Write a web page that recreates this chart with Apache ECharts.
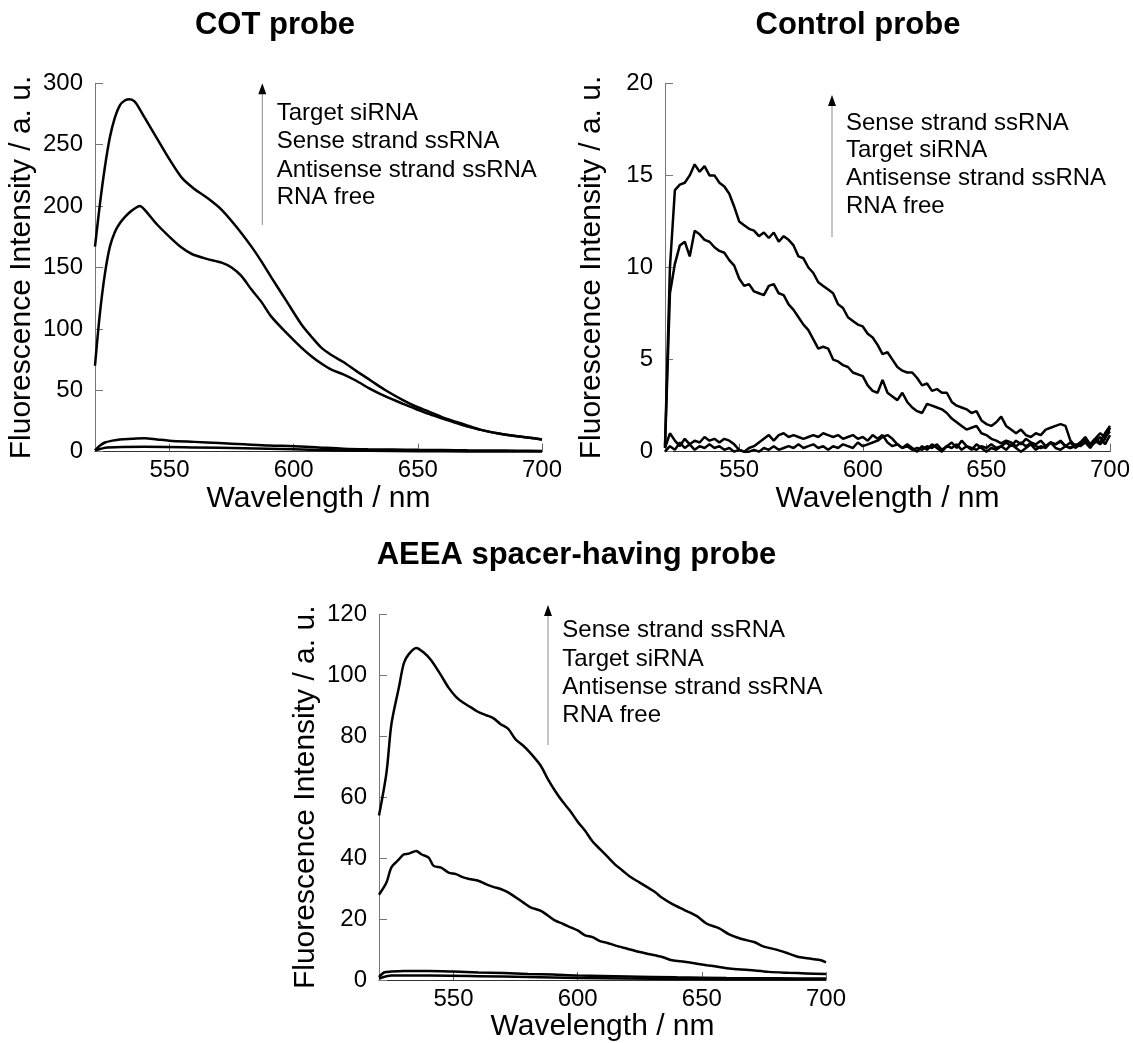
<!DOCTYPE html>
<html><head><meta charset="utf-8">
<script src="https://cdn.jsdelivr.net/npm/echarts@6/dist/echarts.min.js"></script>
<style>html,body{margin:0;padding:0;background:#fff}#c{width:1133px;height:1043px}</style>
</head><body><div id="c"></div><script>
// ---------- data ----------
var titles = ['COT probe', 'Control probe', 'AEEA spacer-having probe'];
var xTicks = [550, 600, 650, 700];
var xName = 'Wavelength / nm';
var yName = 'Fluorescence Intensity / a. u.';
var cotLegend  = ['Target siRNA', 'Sense strand ssRNA', 'Antisense strand ssRNA', 'RNA free'];
var ctrlLegend = ['Sense strand ssRNA', 'Target siRNA', 'Antisense strand ssRNA', 'RNA free'];
var aeeaLegend = ['Sense strand ssRNA', 'Target siRNA', 'Antisense strand ssRNA', 'RNA free'];

// COT probe
var cotTargetWl = [520,522,524,526,528,530,532,534,536,538,540,545,550,555,560,565,571,577,583,587,591,597,603,607,611,615,620,625,631,637,644,649,654,660,669,675,682,690,700];
var cotTarget   = [167,202,232,256,272,282,286,287,285,279,272,255,238,223,214,207,197,183,167,155,142,123,104,94,85,79,73,66,58,50,42,37,33,28,22,18,15,12.5,10];
var cotSenseWl  = [520,522,524,526,528,530,532,534,536,538,540,545,550,555,559,565,571,575,579,583,587,591,597,603,607,611,615,620,625,631,637,644,649,654,660,669,675,682,690,700];
var cotSense    = [70,113,145,167,179,186,191,195,198,200,197,185,175,166,161,157,154,150,143,132,122,110,97,85,78,72,67,63,58,51,45,39,35,31,27,21,18,15,12.5,10];
var cotAntiWl   = [520,522,524,527,530,535,540,545,550,560,570,580,590,600,610,620,630,640,650,660,670,680,690,700];
var cotAnti     = [1,5,7.5,9,10,10.5,11,10,9,8,7,6,5,4.5,3.5,2.5,2,1.8,1.5,1.3,1.1,1,0.8,0.6];
var cotFreeWl   = [520,525,540,560,580,600,620,640,660,680,700];
var cotFree     = [1,3.5,4,3.5,2.8,2,1,0.5,0.3,0.2,0.2];

// Control probe (2 nm steps, 520..700)
var ctrlWl = [];
for (var w = 520; w <= 700; w += 2) ctrlWl.push(w);
var ctrlSense = [0.3,10.0,14.2,14.5,14.6,15.0,15.6,15.2,15.5,15.0,
  15.0,14.6,14.4,14.0,13.3,12.5,12.3,12.1,12.0,11.7,
  11.9,11.6,11.9,11.4,11.7,11.5,11.2,10.6,10.5,10.0,
  9.7,9.2,9.0,8.8,8.6,8.0,7.8,7.3,7.1,6.9,
  6.8,6.4,6.2,5.8,5.3,5.4,5.0,4.6,4.4,4.3,
  4.3,4.0,3.6,3.7,3.3,3.4,3.2,3.2,2.7,2.5,
  2.4,2.3,2.1,2.2,1.7,1.5,1.4,1.6,1.9,1.4,
  1.2,1.0,1.2,0.9,0.8,1.0,0.9,1.2,1.3,1.4,
  1.5,1.4,0.6,0.3,0.5,0.8,0.4,0.7,0.5,1.0,
  1.4];
var ctrlTarget = [0.2,8.6,10.2,11.2,11.4,10.6,12.0,11.8,11.5,11.4,
  11.1,10.9,10.8,10.4,10.1,9.4,9.0,9.1,8.7,8.6,
  8.5,9.0,9.1,8.6,8.5,8.0,7.7,7.3,6.9,6.6,
  6.1,5.6,5.7,5.6,5.0,4.9,4.7,4.6,4.3,4.2,
  4.1,3.6,3.3,3.2,3.9,3.2,3.0,2.8,3.2,2.7,
  2.4,2.2,2.1,2.6,2.5,2.4,2.3,2.1,1.8,1.6,
  1.4,1.2,1.3,1.4,1.0,0.9,0.7,0.6,0.45,0.6,
  0.5,0.3,0.5,0.3,0.45,0.3,0.2,0.3,0.5,0.4,
  0.55,0.3,0.2,0.3,0.5,0.6,0.4,0.7,1.0,0.8,
  1.1];
var ctrlAnti = [0.2,1.0,0.6,0.3,0.7,0.4,0.6,0.5,0.8,0.6,
  0.7,0.5,0.7,0.6,0.4,0.1,0.0,0.2,0.3,0.5,
  0.7,0.9,0.6,0.9,1.0,0.8,0.9,0.8,0.7,0.8,
  0.9,0.8,1.0,0.9,0.8,0.9,0.7,0.8,0.9,0.7,
  0.8,0.6,0.9,0.7,0.9,0.5,0.3,0.4,0.2,0.3,
  0.1,0.2,0.1,0.3,0.2,0.4,0.1,0.3,0.2,0.4,
  0.1,0.3,0.2,0.1,0.3,0.2,0.4,0.2,0.3,0.5,
  0.3,0.6,0.4,0.7,0.5,0.4,0.6,0.3,0.5,0.4,
  0.6,0.3,0.2,0.4,0.3,0.5,0.2,0.6,0.4,0.7,
  1.3];
var ctrlFree = [0.0,0.3,0.1,0.5,0.2,0.4,0.1,0.3,0.2,0.4,
  0.2,0.3,0.1,0.2,0.0,0.1,0.0,0.0,0.1,0.0,
  0.2,0.1,0.3,0.1,0.2,0.3,0.2,0.4,0.2,0.3,
  0.4,0.2,0.3,0.1,0.3,0.2,0.4,0.3,0.2,0.5,
  0.3,0.4,0.5,0.6,0.8,0.9,0.7,0.4,0.2,0.4,
  0.2,0.0,0.3,0.1,0.4,0.2,0.0,0.3,0.5,0.2,
  0.6,0.3,0.1,0.4,0.2,0.0,0.2,0.1,0.3,0.1,
  0.4,0.2,0.0,0.2,0.4,0.1,0.3,0.2,0.5,0.2,
  0.1,0.3,0.5,0.2,0.4,0.7,0.3,0.5,0.8,0.4,
  0.9];

// AEEA spacer-having probe
var aeeaSenseWl = [520,523,525,528,530,532,535,538,541,545,548,551,554,557,560,563,566,569,572,575,578,581,585,588,591,594,597,600,603,606,609,612,615,618,621,625,628,631,634,638,643,648,652,657,661,666,671,675,680,685,689,694,698,700];
var aeeaSense   = [54,68,84,96,104,107,109,107.5,105,100,96,93,91,89.5,88,87,86,84,82.5,79,77,74.5,70.5,66,62,58.5,55.5,52,49,45.5,43,40.5,38,36,34,32,30.5,29,27,25,23,21,18.5,17,15,13.5,12.5,11,10,8.7,7.6,7,6.5,5.8];
var aeeaTargetWl = [520,523,525,528,530,532,535,537,540,542,545,548,551,554,557,560,563,566,569,572,575,578,581,585,588,591,594,597,600,603,606,609,612,615,620,625,629,634,638,643,648,652,657,661,669,677,685,692,700];
var aeeaTarget   = [28,32,37,39.6,41.3,41.5,42.4,41.3,40.2,37.5,36.9,35.3,34.8,33.7,33.1,32.6,31.5,30.6,29.9,28.8,27.2,25.5,23.9,22.8,21.2,19.5,18.5,17.4,16.3,14.7,14.1,12.8,12.2,11.4,10.3,9.2,8.5,7.6,6.5,6.0,5.4,4.9,4.3,3.8,3.3,2.7,2.4,2.2,2.0];
var aeeaAntiWl = [520,522,525,530,540,550,560,570,580,590,600,620,640,660,680,700];
var aeeaAnti   = [1,2.5,2.8,3,3,2.8,2.5,2.3,2,1.8,1.5,1.2,0.9,0.7,0.6,0.5];
var aeeaFreeWl = [520,525,540,560,580,600,620,640,660,680,700];
var aeeaFree   = [0.5,1.5,1.5,1.3,1,0.7,0.5,0.4,0.3,0.3,0.3];

// ---------- chart ----------
var FF = "'Liberation Sans', Arial, Helvetica, sans-serif";
function zip(a, b) { return a.map(function (v, i) { return [v, b[i]]; }); }

var grids = [
  {left: 95, top: 83.3, width: 447, height: 368.4},
  {left: 665, top: 83.3, width: 447, height: 368.4},
  {left: 379, top: 614.5, width: 447, height: 368.5}
];
var yMax = [300, 20, 120], yInt = [50, 5, 20];

function xAx(gi) {
  return {type: 'value', gridIndex: gi, min: 520, max: 700,
    name: xName, nameLocation: 'middle', nameGap: 28,
    nameTextStyle: {fontSize: 30, color: '#000', fontFamily: FF},
    axisLine: {show: true, onZero: false, lineStyle: {color: '#333', width: 1}},
    axisTick: {show: true, inside: true, length: 8, customValues: xTicks, lineStyle: {color: '#666', width: 1}},
    axisLabel: {customValues: xTicks, fontSize: 24, color: '#000', margin: 7, fontFamily: FF},
    splitLine: {show: false}};
}
function yAx(gi) {
  return {type: 'value', gridIndex: gi, min: 0, max: yMax[gi], interval: yInt[gi],
    name: yName, nameLocation: 'middle', nameGap: 58,
    nameTextStyle: {fontSize: 30, color: '#000', fontFamily: FF},
    axisLine: {show: true, lineStyle: {color: '#777', width: 1}},
    axisTick: {show: true, inside: true, length: 8, lineStyle: {color: '#777', width: 1}},
    axisLabel: {fontSize: 24, color: '#000', margin: 12, fontFamily: FF},
    splitLine: {show: false}};
}
function ser(gi, name, wl, vals, smooth) {
  return {type: 'line', name: name, xAxisIndex: gi, yAxisIndex: gi, data: zip(wl, vals),
    showSymbol: false, smooth: smooth ? 0.3 : false, silent: true,
    lineStyle: {color: '#000', width: 2.5}, clip: true};
}

var series = [
  ser(0, cotLegend[0], cotTargetWl, cotTarget, true),
  ser(0, cotLegend[1], cotSenseWl, cotSense, true),
  ser(0, cotLegend[2], cotAntiWl, cotAnti, true),
  ser(0, cotLegend[3], cotFreeWl, cotFree, true),
  ser(1, ctrlLegend[0], ctrlWl, ctrlSense, false),
  ser(1, ctrlLegend[1], ctrlWl, ctrlTarget, false),
  ser(1, ctrlLegend[2], ctrlWl, ctrlAnti, false),
  ser(1, ctrlLegend[3], ctrlWl, ctrlFree, false),
  ser(2, aeeaLegend[0], aeeaSenseWl, aeeaSense, true),
  ser(2, aeeaLegend[1], aeeaTargetWl, aeeaTarget, true),
  ser(2, aeeaLegend[2], aeeaAntiWl, aeeaAnti, true),
  ser(2, aeeaLegend[3], aeeaFreeWl, aeeaFree, true)
];

// annotation layout (titles + arrow legends)
var titlePos = [[275, 25.7], [858, 25.7], [576.5, 555.7]];
var legendPos = [
  {ax: 262.3, top: 83.3, bottom: 225, tx: 276.7, base: [121.7, 150, 178.3, 206], items: cotLegend},
  {ax: 832, top: 95, bottom: 237, tx: 846, base: [131.7, 159, 186.7, 215], items: ctrlLegend},
  {ax: 548, top: 605, bottom: 745, tx: 562.3, base: [639, 667.7, 695.7, 724], items: aeeaLegend}
];
var graphic = [];
titles.forEach(function (t, i) {
  graphic.push({type: 'text', x: titlePos[i][0], y: titlePos[i][1], silent: true,
    style: {text: t, fill: '#000', font: 'bold 31px ' + FF, align: 'center', verticalAlign: 'middle'}});
});
legendPos.forEach(function (L) {
  graphic.push({type: 'line', silent: true, shape: {x1: L.ax, y1: L.top + 8, x2: L.ax, y2: L.bottom},
    style: {stroke: '#8a8a8a', lineWidth: 1}});
  graphic.push({type: 'polygon', silent: true,
    shape: {points: [[L.ax, L.top], [L.ax - 4, L.top + 11], [L.ax + 4, L.top + 11]]},
    style: {fill: '#000'}});
  L.items.forEach(function (s, k) {
    graphic.push({type: 'text', silent: true, x: L.tx, y: L.base[k] - 8.4,
      style: {text: s, fill: '#000', font: '24px ' + FF, align: 'left', verticalAlign: 'middle'}});
  });
});

var chart = echarts.init(document.getElementById('c'), null, {renderer: 'canvas'});
chart.setOption({
  animation: false,
  backgroundColor: '#fff',
  textStyle: {fontFamily: FF},
  grid: grids,
  xAxis: [xAx(0), xAx(1), xAx(2)],
  yAxis: [yAx(0), yAx(1), yAx(2)],
  series: series,
  graphic: graphic
});
</script></body></html>
